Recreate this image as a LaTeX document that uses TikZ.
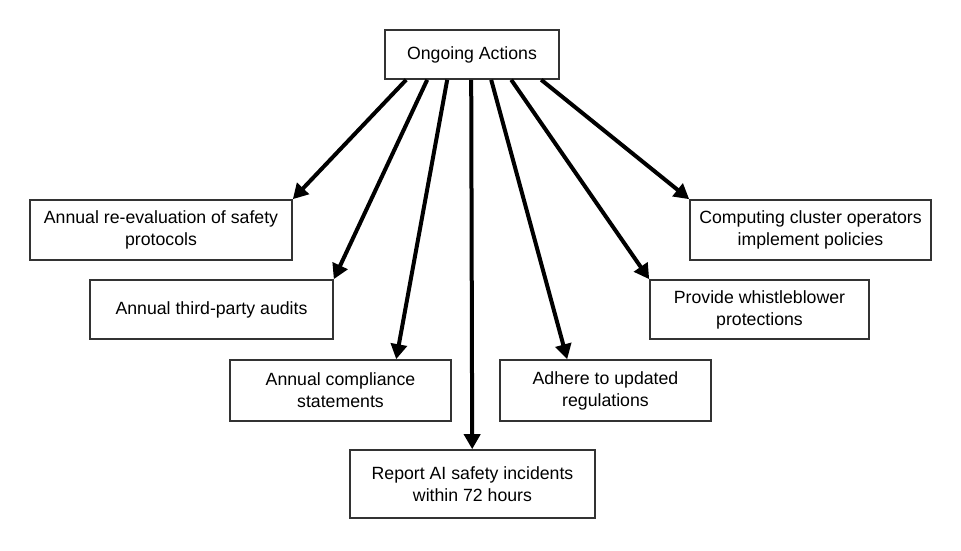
\documentclass[tikz,border=0pt]{standalone}
\usepackage{fontspec}
\setmainfont{Liberation Sans}
\usetikzlibrary{arrows.meta,calc}
\begin{document}
\begin{tikzpicture}[x=1pt,y=-1pt,
  box/.style={draw=black!80,line width=1.6pt,fill=white,align=center,inner sep=0pt,
    font=\fontsize{17.7}{22}\selectfont},
  conn/.style={line width=4pt,-{Triangle[width=16pt,length=15pt]}}]
\useasboundingbox (0,0) rectangle (961,551);
\node[box,minimum width=174pt,minimum height=49pt] (oa) at (472,54.5) {Ongoing Actions};
\node[box,minimum width=262pt,minimum height=60pt] (re) at (161,230) {Annual re-evaluation of safety\\protocols};
\node[box,minimum width=243pt,minimum height=59pt] (tp) at (211.5,309.5) {Annual third-party audits};
\node[box,minimum width=221pt,minimum height=61pt] (cs) at (340.5,390.5) {Annual compliance\\statements};
\node[box,minimum width=245pt,minimum height=68pt] (ri) at (472.5,484) {Report AI safety incidents\\within 72 hours};
\node[box,minimum width=211pt,minimum height=61pt] (ad) at (605.5,390.5) {Adhere to updated\\regulations};
\node[box,minimum width=219pt,minimum height=59pt] (wb) at (759.5,309.5) {Provide whistleblower\\protections};
\node[box,minimum width=241pt,minimum height=60pt] (cc) at (810.5,230) {Computing cluster operators\\implement policies};
\draw[conn] ($(oa.south west)+(22,0)$) -- (re.north east);
\draw[conn] ($(oa.south west)+(43,0)$) -- (tp.north east);
\draw[conn] ($(oa.south west)+(63,0)$) -- ($(cs.north west)+(167,0)$);
\draw[conn] ($(oa.south west)+(87,0)$) -- ($(ri.north west)+(123,0)$);
\draw[conn] ($(oa.south west)+(107,0)$) -- ($(ad.north west)+(68,0)$);
\draw[conn] ($(oa.south west)+(127,0)$) -- (wb.north west);
\draw[conn] ($(oa.south west)+(157,0)$) -- (cc.north west);
\end{tikzpicture}
\end{document}
